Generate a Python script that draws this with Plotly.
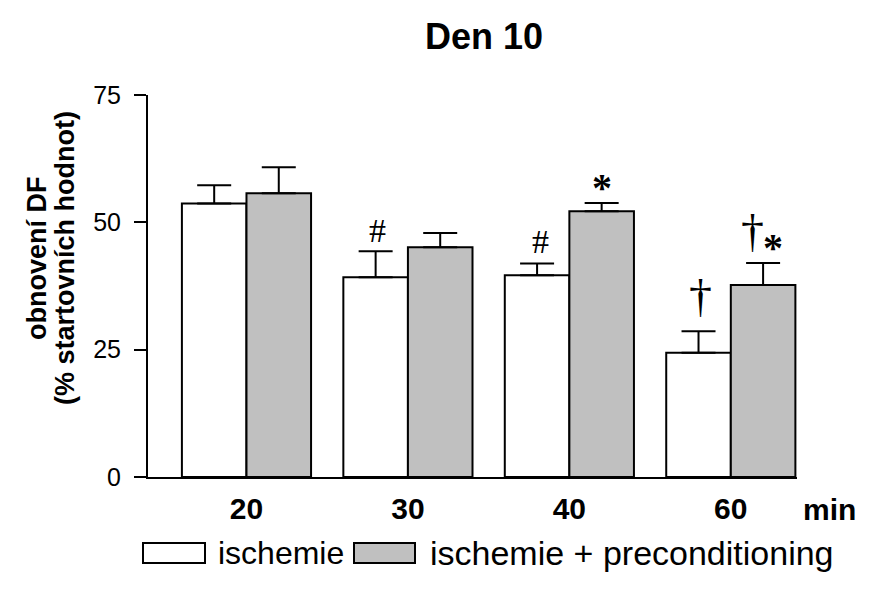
import plotly.graph_objects as go

# Recovery of DF on day 10, per ischaemia duration
categories = ["20", "30", "40", "60"]
ischemie = [53.7, 39.2, 39.6, 24.4]
ischemie_err = [3.6, 5.1, 2.3, 4.2]
precond = [55.7, 45.1, 52.2, 37.7]
precond_err = [5.1, 2.8, 1.6, 4.3]

# Significance marks: (category, series, symbol, x offset px, y offset px, size, weight)
marks = [
    ("30", "isch", "#", 2, 21, 34, "normal"),
    ("40", "isch", "#", 3, 22, 34, "normal"),
    ("40", "pre", "*", 0, 15, 40, "bold"),
    ("60", "isch", "\u2020", 2, 35, 46, "normal"),
    ("60", "pre", "\u2020", -11, 32, 46, "normal"),
    ("60", "pre", "*", 10, 16, 40, "bold"),
]

FONT = "Arial, Liberation Sans, sans-serif"
SERIF = "Times New Roman, Liberation Serif, serif"
GRAY = "#c0c0c0"

# plot-area geometry in pixels (for paper-coordinate helpers)
L, T, W, H = 148, 95, 649, 382
X_LO, X_HI = -0.61, 3.41


def px_x(px):
    return (px - L) / W


def px_y(py):
    return (T + H - py) / H


fig = go.Figure()
fig.add_trace(go.Bar(
    x=categories, y=ischemie, name="ischemie",
    marker=dict(color="white", line=dict(color="black", width=2)),
    error_y=dict(type="data", symmetric=False, array=ischemie_err,
                 arrayminus=[0] * len(ischemie), color="black",
                 thickness=2, width=17),
))
fig.add_trace(go.Bar(
    x=categories, y=precond, name="ischemie + preconditioning",
    marker=dict(color=GRAY, line=dict(color="black", width=2)),
    error_y=dict(type="data", symmetric=False, array=precond_err,
                 arrayminus=[0] * len(precond), color="black",
                 thickness=2, width=17),
))

annotations = []
half = 0.2  # half a bar width in category units
for cat, series, sym, dx, dy, size, weight in marks:
    i = categories.index(cat)
    if series == "isch":
        top = ischemie[i] + ischemie_err[i]
        xc = i - half
    else:
        top = precond[i] + precond_err[i]
        xc = i + half
    annotations.append(dict(
        x=px_x(L + (xc - X_LO) / (X_HI - X_LO) * W), y=top,
        xref="paper", yref="y", text=sym, showarrow=False,
        xanchor="center", yanchor="middle", xshift=dx, yshift=dy,
        font=dict(family=SERIF, size=size, color="black", weight=weight),
    ))

# axis caption for the x values
annotations.append(dict(
    x=px_x(829), y=px_y(509), xref="paper", yref="paper", text="min",
    showarrow=False, xanchor="center", yanchor="middle",
    font=dict(family=FONT, size=30, color="black", weight="bold"),
))

# y-axis title, two tight lines
annotations.append(dict(
    x=px_x(37), y=px_y(258), xref="paper", yref="paper", text="obnovení DF",
    showarrow=False, xanchor="center", yanchor="middle", textangle=-90,
    font=dict(family=FONT, size=27, color="black", weight="bold"),
))
annotations.append(dict(
    x=px_x(65), y=px_y(258), xref="paper", yref="paper",
    text="(% startovních hodnot)",
    showarrow=False, xanchor="center", yanchor="middle", textangle=-90,
    font=dict(family=FONT, size=27, color="black", weight="bold"),
))

# legend drawn by hand so the swatches can be wide
shapes = [
    dict(type="rect", xref="paper", yref="paper",
         x0=px_x(143), x1=px_x(205), y0=px_y(563), y1=px_y(543),
         fillcolor="white", line=dict(color="black", width=2)),
    dict(type="rect", xref="paper", yref="paper",
         x0=px_x(354), x1=px_x(415), y0=px_y(563), y1=px_y(543),
         fillcolor=GRAY, line=dict(color="black", width=2)),
]
annotations.append(dict(
    x=px_x(216), y=px_y(553), xref="paper", yref="paper", text="ischemie",
    showarrow=False, xanchor="left", yanchor="middle",
    font=dict(family=FONT, size=32, color="black"),
))
annotations.append(dict(
    x=px_x(428), y=px_y(553), xref="paper", yref="paper",
    text="ischemie + preconditioning",
    showarrow=False, xanchor="left", yanchor="middle",
    font=dict(family=FONT, size=34, color="black"),
))

fig.update_layout(
    width=877, height=596,
    margin=dict(l=L, r=877 - L - W, t=T, b=596 - T - H, pad=0),
    paper_bgcolor="white", plot_bgcolor="white",
    barmode="group", bargap=0.2, bargroupgap=0,
    showlegend=False,
    title=dict(text="Den 10", x=484 / 877, xanchor="center",
               y=1 - 36 / 596, yanchor="middle", yref="container",
               font=dict(family=FONT, size=36, color="black", weight="bold")),
    xaxis=dict(type="category", range=[X_LO, X_HI], showline=True,
               linecolor="black", linewidth=2, ticks="", showgrid=False,
               zeroline=False, ticklabelstandoff=4,
               tickfont=dict(family=FONT, size=30, color="black", weight="bold")),
    yaxis=dict(range=[0, 75], tickvals=[0, 25, 50, 75], showline=True,
               linecolor="black", linewidth=2, ticks="outside", ticklen=12,
               tickwidth=2, tickcolor="black", showgrid=False, zeroline=False,
               ticklabelstandoff=8,
               tickfont=dict(family=FONT, size=25, color="black")),
    annotations=annotations,
    shapes=shapes,
)

fig.write_html("out.html")
